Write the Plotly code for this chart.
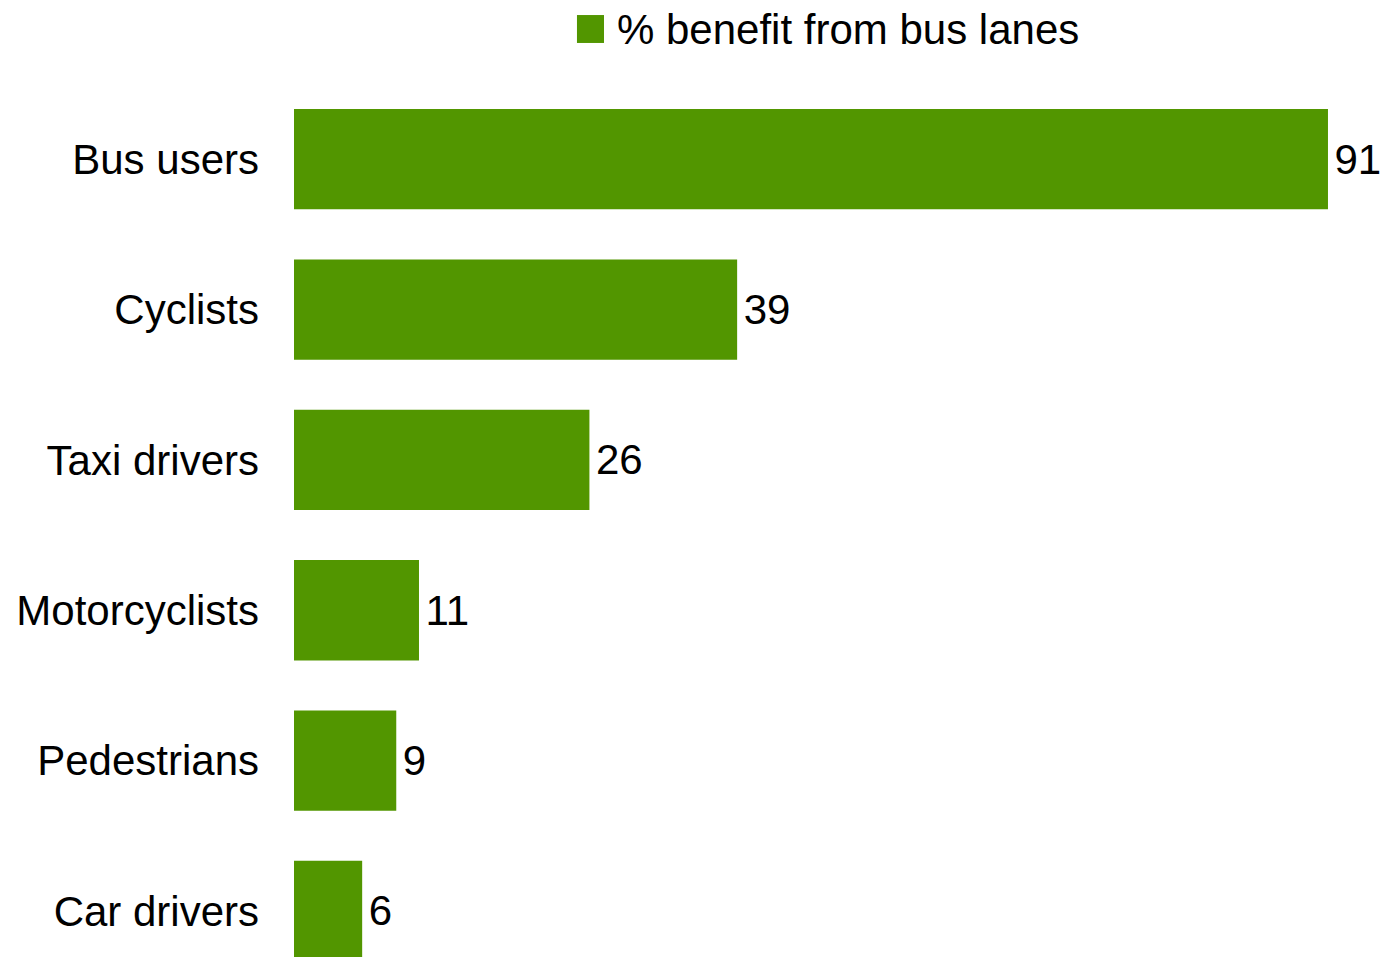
import plotly.graph_objects as go

categories = ["Bus users", "Cyclists", "Taxi drivers", "Motorcyclists", "Pedestrians", "Car drivers"]
values = [91, 39, 26, 11, 9, 6]
series_name = "% benefit from bus lanes"
bar_color = "#529600"
font_family = "Liberation Sans, Arial, sans-serif"

fig = go.Figure()
fig.add_trace(go.Bar(
    x=values,
    y=categories,
    orientation="h",
    marker=dict(color=bar_color, line=dict(width=0)),
    text=[f"\u200a{v}" for v in values],
    textposition="outside",
    textfont=dict(size=42, color="black", family=font_family),
    cliponaxis=False,
    showlegend=False,
    name=series_name,
))

fig.update_layout(
    width=1384,
    height=957,
    margin=dict(l=294, r=0, t=84, b=0),
    paper_bgcolor="white",
    plot_bgcolor="white",
    font=dict(family=font_family, size=42, color="black"),
    bargap=0.333,
    showlegend=False,
    xaxis=dict(range=[0, 95.93], visible=False, showgrid=False, zeroline=False),
    yaxis=dict(
        type="category",
        categoryorder="array",
        categoryarray=categories,
        range=[5.306, -0.5],
        showgrid=False,
        zeroline=False,
        showline=False,
        ticks="",
        ticklabelstandoff=34,
        tickfont=dict(size=42, color="black", family=font_family),
    ),
    shapes=[dict(
        type="rect", xref="paper", yref="paper",
        x0=0.2596, x1=0.2844, y0=1.0470, y1=1.0790,
        fillcolor=bar_color, line=dict(width=0),
    )],
    annotations=[dict(
        text=series_name, xref="paper", yref="paper",
        x=0.2945, y=1.063, xanchor="left", yanchor="middle",
        showarrow=False, font=dict(size=42, color="black", family=font_family),
    )],
)

fig.write_html(
    "out.html",
    config={"displayModeBar": False},
    post_script="document.body.style.margin='0';document.body.style.overflow='hidden';",
)
